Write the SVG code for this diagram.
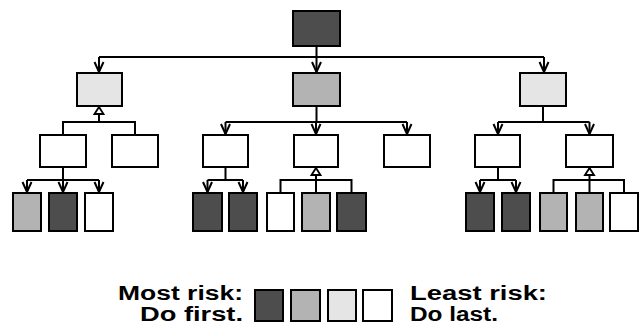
<svg xmlns="http://www.w3.org/2000/svg" width="642" height="332" viewBox="0 0 642 332">
<style>
.n{stroke:#000;stroke-width:2}
.d{fill:#4d4d4d}.g{fill:#b3b3b3}.l{fill:#e5e5e5}.w{fill:#fff}
.c{fill:none;stroke:#000;stroke-width:2}
.dn{marker-end:url(#open)}
.up{marker-end:url(#tri)}
.t{font-family:"Liberation Sans",Arial,sans-serif;font-weight:bold;font-size:19.5px;fill:#000}
</style>
<defs>
<marker id="open" markerUnits="userSpaceOnUse" viewBox="-12 -6 14 12" refX="0" refY="0" markerWidth="14" markerHeight="12" orient="auto">
<path d="M-10,-4.5 L0,0 L-10,4.5" fill="none" stroke="#000" stroke-width="2"/>
</marker>
<marker id="tri" markerUnits="userSpaceOnUse" viewBox="-10 -7 12 14" refX="0" refY="0" markerWidth="12" markerHeight="14" orient="auto">
<path d="M-7,-4.5 L0,0 L-7,4.5 Z" fill="#fff" stroke="#000" stroke-width="1.8"/>
</marker>
</defs>
<rect width="642" height="332" fill="#fff"/>
<g id="connectors">
<path class="c" d="M99,57 H544"/>
<path class="c dn" d="M99,57 V72"/>
<path class="c dn" d="M316.5,46 V72"/>
<path class="c dn" d="M544,57 V72"/>
<path class="c" d="M63,135 V122 H135 V135"/>
<path class="c up" d="M99,122 V107"/>
<path class="c" d="M63,167 V180"/>
<path class="c" d="M27,180 H99"/>
<path class="c dn" d="M27,180 V192"/>
<path class="c dn" d="M63,180 V192"/>
<path class="c dn" d="M99,180 V192"/>
<path class="c" d="M316.5,106 V122"/>
<path class="c" d="M225.5,122 H407"/>
<path class="c dn" d="M225.5,122 V134"/>
<path class="c dn" d="M316,122 V134"/>
<path class="c dn" d="M407,122 V134"/>
<path class="c" d="M225.5,167 V180 M207.5,180 H243"/>
<path class="c dn" d="M207.5,180 V192"/>
<path class="c dn" d="M243,180 V192"/>
<path class="c" d="M280.5,193 V180 H351.5 V193"/>
<path class="c up" d="M316,193 V168"/>
<path class="c" d="M543,106 V122 M498,122 H589.5"/>
<path class="c dn" d="M498,122 V134"/>
<path class="c dn" d="M589.5,122 V134"/>
<path class="c" d="M498,167 V180 M480,180 H516"/>
<path class="c dn" d="M480,180 V192"/>
<path class="c dn" d="M516,180 V192"/>
<path class="c" d="M553.5,193 V180 H624 V193"/>
<path class="c up" d="M589.5,193 V168"/>
</g>
<g id="root"><rect class="n d" x="293" y="11" width="47" height="35"/></g>
<g id="l1a"><rect class="n l" x="77" y="73" width="45" height="33"/></g>
<g id="l1b"><rect class="n g" x="293" y="73" width="47" height="33"/></g>
<g id="l1c"><rect class="n l" x="520" y="73" width="46" height="33"/></g>
<g id="l2a"><rect class="n w" x="40" y="135" width="46" height="32"/></g>
<g id="l2b"><rect class="n w" x="112" y="135" width="46" height="32"/></g>
<g id="l2c"><rect class="n w" x="203" y="135" width="45" height="32"/></g>
<g id="l2d"><rect class="n w" x="294" y="135" width="44" height="32"/></g>
<g id="l2e"><rect class="n w" x="384" y="135" width="46" height="32"/></g>
<g id="l2f"><rect class="n w" x="475" y="135" width="45" height="32"/></g>
<g id="l2g"><rect class="n w" x="566" y="135" width="47" height="32"/></g>
<g id="l3a1"><rect class="n g" x="13" y="193" width="28" height="38"/></g>
<g id="l3a2"><rect class="n d" x="49" y="193" width="28" height="38"/></g>
<g id="l3a3"><rect class="n w" x="85" y="193" width="28" height="38"/></g>
<g id="l3c1"><rect class="n d" x="193" y="193" width="29" height="38"/></g>
<g id="l3c2"><rect class="n d" x="229" y="193" width="28" height="38"/></g>
<g id="l3d1"><rect class="n w" x="267" y="193" width="27" height="38"/></g>
<g id="l3d2"><rect class="n g" x="302" y="193" width="28" height="38"/></g>
<g id="l3d3"><rect class="n d" x="337" y="193" width="29" height="38"/></g>
<g id="l3f1"><rect class="n d" x="466" y="193" width="28" height="38"/></g>
<g id="l3f2"><rect class="n d" x="502" y="193" width="28" height="38"/></g>
<g id="l3g1"><rect class="n g" x="540" y="193" width="27" height="38"/></g>
<g id="l3g2"><rect class="n g" x="576" y="193" width="27" height="38"/></g>
<g id="l3g3"><rect class="n w" x="610" y="193" width="28" height="38"/></g>
<g id="legend">
<text class="t" x="118" y="300" textLength="125" lengthAdjust="spacingAndGlyphs">Most risk:</text>
<text class="t" x="140" y="321" textLength="103" lengthAdjust="spacingAndGlyphs">Do first.</text>
<rect class="n d" x="255" y="290" width="28" height="31"/>
<rect class="n g" x="291" y="290" width="29" height="31"/>
<rect class="n l" x="328" y="290" width="28" height="31"/>
<rect class="n w" x="363" y="290" width="29" height="31"/>
<text class="t" x="410" y="300" textLength="137" lengthAdjust="spacingAndGlyphs">Least risk:</text>
<text class="t" x="410" y="321" textLength="88" lengthAdjust="spacingAndGlyphs">Do last.</text>
</g>
</svg>
